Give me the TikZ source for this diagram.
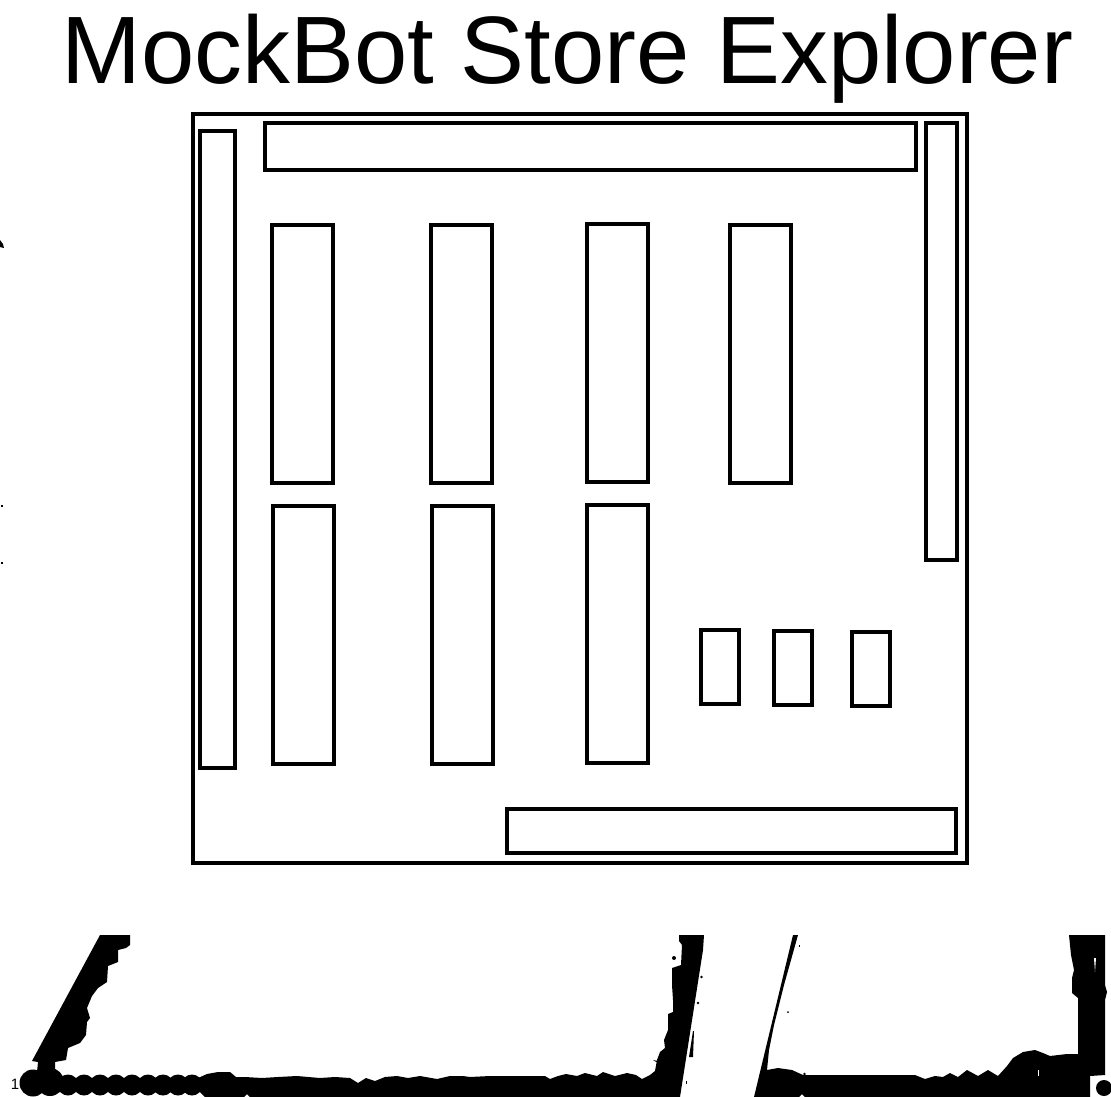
\documentclass[tikz,border=0pt]{standalone}
\usepackage{fontspec}
\setmainfont{Liberation Sans}
\tikzset{
  box/.style={draw=black,line width=3.4pt,line join=miter,fill=none},
  ink/.style={fill=black,draw=none},
  speck/.style={fill=black,draw=none}
}
\begin{document}
\begin{tikzpicture}[x=1pt,y=-1pt]
\useasboundingbox (0,0) rectangle (1111,1097);
\node[anchor=base,inner sep=0pt,font=\fontsize{95.8pt}{100pt}\selectfont] (title) at (567.5,84) {MockBot Store Explorer};
% cabinet
\draw[box] (193,114) rectangle (967,863);
\draw[box] (200,131) rectangle (235,768);
\draw[box] (265,123) rectangle (916,170);
\draw[box] (926,123) rectangle (957,560);
\draw[box] (272,225) rectangle (333,483);
\draw[box] (431,225) rectangle (492,483);
\draw[box] (587,224) rectangle (648,482);
\draw[box] (730,225) rectangle (791,483);
\draw[box] (273,506) rectangle (334,764);
\draw[box] (432,506) rectangle (493,764);
\draw[box] (587,505) rectangle (648,763);
\draw[box] (701,630) rectangle (739,704);
\draw[box] (774,631) rectangle (812,705);
\draw[box] (852,632) rectangle (890,706);
\draw[box] (507,809) rectangle (956,853);
% left black form: slanted arm
\fill[ink] (100,935) -- (130,935) -- (130,945) -- (126,948) -- (118,950) -- (118,962) -- (108,966) -- (107,982) -- (98,988) -- (92,996) -- (87,1008) -- (90,1018) -- (87,1022) -- (86,1035) -- (80,1043) -- (68,1048) -- (66,1060) -- (55,1062) -- (55,1072) -- (37,1072) -- (38,1062) -- (32,1061) -- cycle;
% left black form: beads
\fill[ink] (33,1083) circle (13.5);
\fill[ink] (50,1082) circle (14);
\foreach \cx in {68,84,100,116,132,148,163,178,192}{\fill[ink] (\cx,1085) circle (10.5);}
\fill[ink] (60,1080) rectangle (210,1091);
% long band and right upright
\fill[ink] (198,1078) -- (207,1074) -- (218,1072) -- (230,1072) -- (236,1077) -- (245,1077) -- (262,1078) -- (278,1077) -- (297,1076) -- (320,1078) -- (335,1077) -- (350,1078) -- (358,1083) -- (366,1078) -- (375,1081) -- (385,1077) -- (397,1076) -- (408,1078) -- (420,1076) -- (437,1079) -- (450,1076) -- (463,1076) -- (470,1077) -- (490,1076) -- (530,1076) -- (545,1076) -- (550,1079) -- (558,1076) -- (566,1074) -- (577,1076) -- (585,1073) -- (597,1076) -- (603,1072) -- (615,1076) -- (627,1073) -- (636,1075) -- (642,1079) -- (650,1075) -- (655,1071) -- (657,1060) -- (660,1052) -- (665,1048) -- (664,1040) -- (668,1030) -- (668,1014) -- (673,1012) -- (673,1000) -- (672,985) -- (672,968) -- (681,965) -- (682,945) -- (679,941) -- (679,935) -- (704,935) -- (703,950) -- (680,1097) -- (250,1097) -- (247,1094) -- (244,1097) -- (205,1097) -- (198,1090) -- cycle;
\fill[speck] (653,1060) -- (658,1061) -- (658,1063) -- cycle;
\node[inner sep=0pt,font=\fontsize{15pt}{15pt}\selectfont] (one) at (15,1084) {1};
% right black form
\fill[ink] (793,935) -- (798,935) -- (784,985) -- (774,1025) -- (769,1050) -- (767,1070) -- (778,1068) -- (792,1070) -- (803,1075) -- (915,1075) -- (925,1079) -- (935,1076) -- (943,1077) -- (950,1073) -- (958,1077) -- (967,1070) -- (978,1076) -- (988,1070) -- (998,1076) -- (1007,1066) -- (1013,1058) -- (1023,1052) -- (1035,1050) -- (1043,1053) -- (1050,1056) -- (1067,1054) -- (1078,1054) -- (1078,998) -- (1072,993) -- (1072,978) -- (1074,970) -- (1071,955) -- (1069,935) -- (1105,935) -- (1105,985) -- (1107,992) -- (1105,1000) -- (1105,1075) -- (1090,1076) -- (1090,1097) -- (805,1097) -- (802,1094) -- (799,1097) -- (754,1097) -- cycle;
\fill[white] (1094,958) -- (1096,958) -- (1095,972) -- cycle;
\fill[white] (1037.5,1070) rectangle (1039,1076);
\fill[ink] (1104,1088) circle (8);
% specks
\fill[speck] (0,240) -- (3,244) -- (4,248) -- (0,247) -- cycle;
\fill[speck] (1,505) rectangle (3,507);
\fill[speck] (1,562) rectangle (3,564);
\fill[speck] (674,958) circle (2);
\fill[speck] (701.5,977) circle (1.3);
\fill[speck] (698,1003) circle (1.3);
\fill[speck] (693,1031) -- (694,1031) -- (693,1057) -- (689,1057) -- cycle;
\fill[speck] (686,1081) rectangle (687,1084);
\fill[speck] (788,1012) circle (1);
\fill[speck] (799,945) rectangle (800,947);
\fill[speck] (804.5,1074) circle (1.3);
\end{tikzpicture}
\end{document}
